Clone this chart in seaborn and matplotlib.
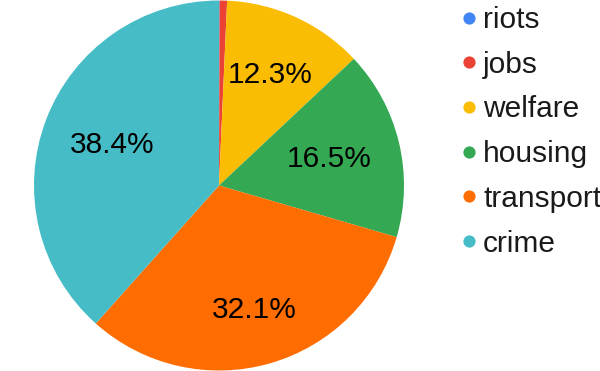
import matplotlib
matplotlib.use("Agg")
import matplotlib.pyplot as plt
from matplotlib.lines import Line2D
import numpy as np
import seaborn as sns

categories = ["riots", "jobs", "welfare", "housing", "transport", "crime"]
values = [0.05, 0.65, 12.3, 16.5, 32.1, 38.4]
colors = ["#4285F4", "#EA4335", "#FBBC04", "#34A853", "#FF6D01", "#46BDC6"]

sns.set_theme(style="white")
plt.rcParams["font.family"] = ["Liberation Sans", "DejaVu Sans"]
palette = sns.color_palette(colors)

W, H = 600, 371
fig = plt.figure(figsize=(W / 100, H / 100), dpi=100)
cx, cy, r = 219, 185.5, 185
ax = fig.add_axes([(cx - r) / W, (H - cy - r) / H, 2 * r / W, 2 * r / H])

def fmt(p):
    return f"{p:.1f}%" if p >= 5 else ""

wedges, texts, autotexts = ax.pie(
    values, colors=palette, startangle=90, counterclock=False,
    autopct=fmt, pctdistance=0.65, radius=1,
    wedgeprops=dict(linewidth=0, edgecolor="none"),
    textprops=dict(fontsize=21.5, color="black"),
)
# label radial distance per wedge (as in reference)
label_dist = {"welfare": 0.66, "housing": 0.61, "transport": 0.70, "crime": 0.62}
for w, t, name in zip(wedges, autotexts, categories):
    if name in label_dist:
        ang = np.deg2rad((w.theta1 + w.theta2) / 2)
        d = label_dist[name]
        t.set_position((d * np.cos(ang), d * np.sin(ang)))
ax.set_xlim(-1, 1)
ax.set_ylim(-1, 1)
ax.set_aspect("equal")
ax.axis("off")

handles = [Line2D([0], [0], marker="o", linestyle="none", markersize=8.8,
                  markerfacecolor=c, markeredgecolor="none") for c in palette]
leg = fig.legend(handles, categories, loc="upper left",
                 bbox_to_anchor=(461.5 / W, 1 - 6.0 / H),
                 frameon=False, fontsize=21.5, handlelength=0.5,
                 handletextpad=0.22, labelspacing=0.56, borderpad=0,
                 borderaxespad=0)
for t in leg.get_texts():
    t.set_color("#1a1a1a")

fig.savefig("out.png", dpi=100)
